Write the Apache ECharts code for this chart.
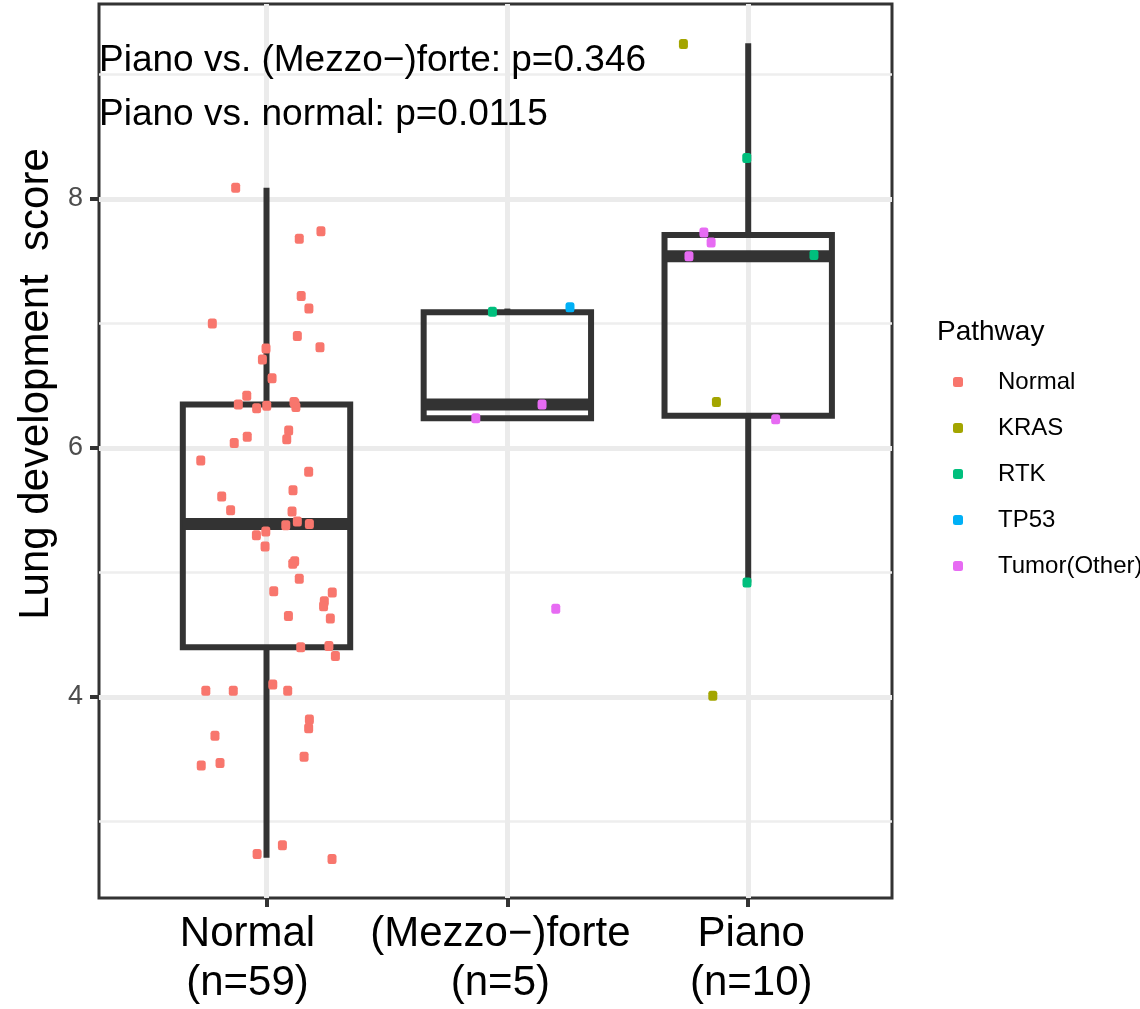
<!DOCTYPE html>
<html>
<head>
<meta charset="utf-8">
<script src="https://cdn.jsdelivr.net/npm/echarts@6/dist/echarts.min.js"></script>
<style>
html, body { margin: 0; padding: 0; background: #fff; }
#c1 { width: 1140px; height: 1009px; }
</style>
</head>
<body>
<div id="c1"></div>
<script>
// groups on the x axis (placed at 1, 2, 3)
var groups = ['Normal', '(Mezzo\u2212)forte', 'Piano'];
var groupN = ['(n=59)', '(n=5)', '(n=10)'];
var yTicks = [4, 6, 8];
var yMinor = [3, 5, 7, 9];
var xTicks = [1, 2, 3];

// box statistics
var boxLower = [2.71, 6.24, 4.92];
var boxQ1 = [4.40, 6.24, 6.26];
var boxMedian = [5.39, 6.35, 7.54];
var boxQ3 = [6.35, 7.09, 7.71];
var boxUpper = [8.09, 7.12, 9.25];

var pathways = ['Normal', 'KRAS', 'RTK', 'TP53', 'Tumor(Other)'];
var pathColors = ['#F8766D', '#A3A500', '#00BF7D', '#00B0F6', '#E76BF3'];

// jittered points: group index, horizontal jitter, score
var normalGroup = [];
var normalJitter = [-0.128, 0.226, 0.136, 0.144, 0.176, -0.225, 0.128, 0.222, -0.002, -0.017,
	0.023, -0.082, -0.117, -0.041, 0.001, 0.114, 0.122, 0.092, 0.084, -0.080,
	-0.134, -0.273, 0.175, 0.110, -0.186, -0.149, 0.106, 0.128, 0.080, 0.178,
	-0.003, -0.042, -0.006, 0.117, 0.109, 0.136, 0.030, 0.273, 0.240, 0.237,
	0.091, 0.265, 0.142, 0.259, 0.286, 0.026, -0.252, -0.138, 0.088, 0.178,
	0.175, -0.214, 0.156, -0.193, -0.271, 0.066, -0.039, 0.272, 0.118];
var normalScore = [8.09, 7.74, 7.68, 7.22, 7.12, 7.00, 6.90, 6.81, 6.80, 6.71,
	6.56, 6.42, 6.35, 6.32, 6.34, 6.37, 6.33, 6.14, 6.07, 6.09,
	6.04, 5.90, 5.81, 5.66, 5.61, 5.50, 5.49, 5.41, 5.38, 5.39,
	5.33, 5.30, 5.21, 5.09, 5.07, 4.95, 4.85, 4.84, 4.77, 4.73,
	4.65, 4.63, 4.40, 4.41, 4.33, 4.10, 4.05, 4.05, 4.05, 3.82,
	3.75, 3.69, 3.52, 3.47, 3.45, 2.81, 2.74, 2.70, 6.36];
for (var i = 0; i < normalScore.length; i++) normalGroup.push(1);

var krasGroup = [3, 3, 3];
var krasJitter = [-0.269, -0.132, -0.147];
var krasScore = [9.245, 6.37, 4.01];

var rtkGroup = [2, 3, 3, 3];
var rtkJitter = [-0.062, -0.006, 0.273, -0.005];
var rtkScore = [7.095, 8.33, 7.55, 4.92];

var tp53Group = [2];
var tp53Jitter = [0.260];
var tp53Score = [7.13];

var tumorGroup = [2, 2, 2, 3, 3, 3, 3];
var tumorJitter = [0.144, -0.131, 0.201, -0.184, -0.154, -0.246, 0.114];
var tumorScore = [6.35, 6.24, 4.71, 7.73, 7.65, 7.54, 6.23];

var FONT = '"Liberation Sans", Arial, sans-serif';
var boxWidth = 0.695;

function points(g, j, s) {
	var out = [];
	for (var i = 0; i < s.length; i++) out.push([g[i] + j[i], s[i]]);
	return out;
}

var pointSets = [
	points(normalGroup, normalJitter, normalScore),
	points(krasGroup, krasJitter, krasScore),
	points(rtkGroup, rtkJitter, rtkScore),
	points(tp53Group, tp53Jitter, tp53Score),
	points(tumorGroup, tumorJitter, tumorScore)
];

var boxData = [];
for (var i = 0; i < groups.length; i++) {
	boxData.push([i + 1, boxLower[i], boxQ1[i], boxMedian[i], boxQ3[i], boxUpper[i]]);
}

var gridLines = [];
for (var i = 0; i < yMinor.length; i++) gridLines.push({ yAxis: yMinor[i], lineStyle: { color: '#EEEEEE', width: 2.5, type: 'solid' } });
for (var i = 0; i < yTicks.length; i++) gridLines.push({ yAxis: yTicks[i], lineStyle: { color: '#EBEBEB', width: 5, type: 'solid' } });
for (var i = 0; i < xTicks.length; i++) gridLines.push({ xAxis: xTicks[i], lineStyle: { color: '#EBEBEB', width: 5, type: 'solid' } });

var series = [{
	name: 'grid',
	type: 'scatter',
	data: [],
	z: 1,
	silent: true,
	markLine: {
		z: 1,
		silent: true,
		symbol: 'none',
		label: { show: false },
		animation: false,
		data: gridLines
	}
}, {
	name: 'box',
	type: 'custom',
	z: 6,
	silent: true,
	encode: { x: 0, y: [1, 2, 3, 4, 5] },
	data: boxData,
	renderItem: function (params, api) {
		var x = api.value(0);
		var lo = api.coord([x, api.value(1)]);
		var q1 = api.coord([x, api.value(2)]);
		var md = api.coord([x, api.value(3)]);
		var q3 = api.coord([x, api.value(4)]);
		var hi = api.coord([x, api.value(5)]);
		var hw = api.size([boxWidth, 0])[0] / 2;
		var st = { stroke: '#333333', fill: null, lineWidth: 6 };
		return {
			type: 'group',
			children: [
				{ type: 'line', shape: { x1: hi[0], y1: hi[1], x2: q3[0], y2: q3[1] }, style: st },
				{ type: 'line', shape: { x1: q1[0], y1: q1[1], x2: lo[0], y2: lo[1] }, style: st },
				{ type: 'rect', shape: { x: q3[0] - hw, y: q3[1], width: hw * 2, height: q1[1] - q3[1] }, style: st },
				{ type: 'line', shape: { x1: md[0] - hw, y1: md[1], x2: md[0] + hw, y2: md[1] }, style: { stroke: '#333333', lineWidth: 12 } }
			]
		};
	}
}];

for (var k = 0; k < pathways.length; k++) {
	series.push({
		name: pathways[k],
		type: 'scatter',
		z: 7,
		symbol: 'roundRect',
		symbolSize: [9, 10],
		itemStyle: { color: pathColors[k], opacity: 1 },
		data: pointSets[k]
	});
}

// the printed labels sit a little off their ticks in the picture
var labelShift = [-19, -7, 3];
var richLab = {};
for (var i = 0; i < groups.length; i++) {
	var s = labelShift[i];
	richLab['g' + i] = {
		fontFamily: FONT, fontSize: 42, lineHeight: 49, color: '#000000',
		padding: s < 0 ? [0, -2 * s, 0, 0] : [0, 0, 0, 2 * s]
	};
}

var myChart = echarts.init(document.getElementById('c1'));
var option = {
	animation: false,
	backgroundColor: '#ffffff',
	grid: {
		left: 99, right: 248, top: 4, bottom: 111,
		show: true, borderColor: '#333333', borderWidth: 3, backgroundColor: 'transparent'
	},
	xAxis: {
		type: 'value',
		min: 0.3045,
		max: 3.597,
		axisLine: { show: false },
		splitLine: { show: false },
		axisTick: { show: true, customValues: xTicks, length: 9, lineStyle: { color: '#333333', width: 4 } },
		axisLabel: {
			customValues: xTicks,
			margin: 12,
			fontFamily: FONT,
			fontSize: 42,
			lineHeight: 49,
			color: '#000000',
			rich: richLab,
			formatter: function (v) {
				var i = Math.round(v) - 1;
				return '{g' + i + '|' + groups[i] + '}\n{g' + i + '|' + groupN[i] + '}';
			}
		}
	},
	yAxis: {
		type: 'value',
		min: 2.386,
		max: 9.566,
		axisLine: { show: false },
		splitLine: { show: false },
		axisTick: { show: true, customValues: yTicks, length: 9, lineStyle: { color: '#333333', width: 4 } },
		axisLabel: {
			customValues: yTicks,
			margin: 16,
			fontFamily: FONT,
			fontSize: 27,
			color: '#4D4D4D'
		}
	},
	legend: {
		data: pathways,
		orient: 'vertical',
		left: 953,
		top: 370,
		padding: 0,
		icon: 'roundRect',
		itemWidth: 10,
		itemHeight: 10,
		itemGap: 22,
		selectedMode: false,
		textStyle: { fontFamily: FONT, fontSize: 24, lineHeight: 24, color: '#000000', padding: [0, 0, 0, 30] }
	},
	graphic: [
		{ type: 'text', x: 99, y: 61, style: { text: 'Piano vs. (Mezzo\u2212)forte: p=0.346', font: '37px ' + FONT, fill: '#000000', textVerticalAlign: 'middle' }, z: 10 },
		{ type: 'text', x: 99, y: 115, style: { text: 'Piano vs. normal: p=0.0115', font: '37px ' + FONT, fill: '#000000', textVerticalAlign: 'middle' }, z: 10 },
		{ type: 'text', x: 36, y: 384, rotation: Math.PI / 2, style: { text: 'Lung development  score', font: '42px ' + FONT, fill: '#000000', textAlign: 'center', textVerticalAlign: 'middle' } },
		{ type: 'text', x: 937, y: 332, style: { text: 'Pathway', font: '28px ' + FONT, fill: '#000000', textVerticalAlign: 'middle' } }
	],
	series: series
};
myChart.setOption(option);
</script>
</body>
</html>
